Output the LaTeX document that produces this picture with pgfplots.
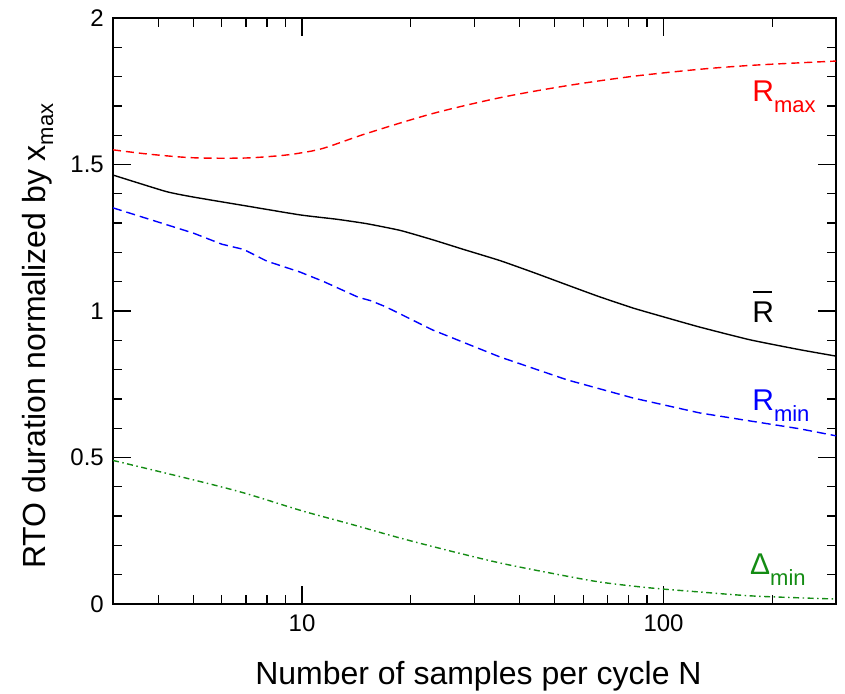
\documentclass[border=0pt]{standalone}
\usepackage{fontspec}
\setmainfont{Liberation Sans}
\usepackage{pgfplots}
\pgfplotsset{compat=1.18}
\definecolor{dgreen}{RGB}{20,140,20}
\definecolor{cred}{RGB}{255,0,0}
\definecolor{cblue}{RGB}{0,0,255}
\begin{document}
\begin{tikzpicture}
\useasboundingbox (-113pt,-89pt) rectangle (732pt,604pt);
\begin{axis}[
  at={(0pt,0pt)}, anchor=south west,
  scale only axis, width=723pt, height=586pt,
  xmode=log, xmin=3, xmax=300, ymin=0, ymax=2,
  xtick={10,100}, xticklabels={10,100},
  minor xtick={4,5,6,7,8,9,20,30,40,50,60,70,80,90,200},
  ytick={0,0.5,1,1.5,2}, yticklabels={0,0.5,1,1.5,2},
  minor ytick={0.1,0.2,0.3,0.4,0.6,0.7,0.8,0.9,1.1,1.2,1.3,1.4,1.6,1.7,1.8,1.9},
  tick align=inside, major tick length=18pt, minor tick length=9pt,
  every tick/.style={black, line width=1.3pt},
  axis line style={line width=1.6pt},
  tick label style={font=\fontsize{24}{28}\selectfont, /pgf/number format/assume math mode=true, inner sep=0pt},
  xticklabel style={anchor=north, yshift=-11pt},
  yticklabel style={anchor=east, xshift=-9pt},
  xlabel={Number of samples per cycle N},
  xlabel style={at={(axis description cs:0.5055,-0.138)}, anchor=base, inner sep=0pt, font=\fontsize{32}{36}\selectfont},
  ylabel={RTO duration normalized by x\raisebox{-8pt}{\fontsize{22}{22}\selectfont max}},
  ylabel style={at={(axis description cs:-0.094,0.457)}, anchor=base, inner sep=0pt, font=\fontsize{32}{36}\selectfont},
]
% R_max
\addplot[cred, line width=1.4pt, dash pattern=on 8pt off 5pt, smooth, tension=0.5] coordinates {
(3,1.55) (3.79,1.535) (5.0,1.523) (6.9,1.522) (8.66,1.53) (9.87,1.539) (11.5,1.556)
(15.1,1.606) (23.0,1.674) (35.3,1.728) (54.1,1.769) (82.4,1.801) (126,1.825)
(173,1.838) (238,1.847) (300,1.853)};
% R bar
\addplot[black, line width=1.4pt, smooth, tension=0.3] coordinates {
(3,1.464) (4.2,1.408) (5.0,1.389) (6.9,1.36) (9.87,1.328) (12.5,1.313) (15.1,1.298)
(18.7,1.275) (23.0,1.243) (28,1.21) (35.3,1.172) (44,1.13) (54.1,1.089) (66,1.05)
(82.4,1.01) (100,0.98) (126,0.945) (173,0.902) (238,0.868) (300,0.846)};
% R_min
\addplot[cblue, line width=1.4pt, dash pattern=on 9pt off 5pt] coordinates {
(3,1.352) (5.0,1.266) (6.0,1.228) (6.9,1.21) (8.0,1.17) (9.87,1.133) (11.5,1.10)
(14.3,1.047) (15.5,1.035) (17,1.015) (23.0,0.935) (35.3,0.843) (54.1,0.765) (82.4,0.703)
(126,0.652) (173,0.625) (238,0.598) (300,0.574)};
% Delta_min
\addplot[dgreen, line width=1.4pt, dash pattern=on 6pt off 3.5pt on 1.5pt off 3.5pt, smooth, tension=0.5] coordinates {
(3,0.49) (5.03,0.423) (6.91,0.379) (10,0.318) (13.6,0.273) (18.7,0.225) (25.7,0.181)
(35.3,0.14) (48.5,0.106) (66.7,0.075) (91.8,0.055) (126,0.041) (173,0.028)
(238,0.021) (300,0.017)};
\node[anchor=base west, inner sep=0pt, text=cred, font=\fontsize{30}{34}\selectfont] at (rel axis cs:0.884,0.857) {R\raisebox{-11pt}{\fontsize{22}{22}\selectfont max}};
\node[anchor=base west, inner sep=0pt, text=black, font=\fontsize{30}{34}\selectfont] at (rel axis cs:0.884,0.481) {\rlap{\hspace{1pt}\rule[29pt]{19pt}{1.8pt}}R};
\node[anchor=base west, inner sep=0pt, text=cblue, font=\fontsize{30}{34}\selectfont] at (rel axis cs:0.884,0.331) {R\raisebox{-11pt}{\fontsize{22}{22}\selectfont min}};
\node[anchor=base west, inner sep=0pt, text=dgreen, font=\fontsize{30}{34}\selectfont] at (rel axis cs:0.881,0.0495) {Δ\raisebox{-11pt}{\fontsize{22}{22}\selectfont min}};
\end{axis}
\end{tikzpicture}
\end{document}
